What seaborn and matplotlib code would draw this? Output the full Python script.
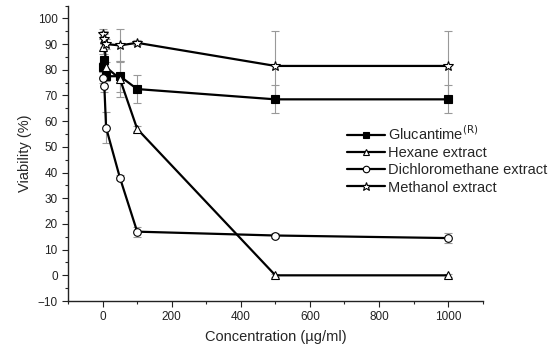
import matplotlib
matplotlib.use("Agg")
import matplotlib.pyplot as plt
import seaborn as sns
from matplotlib.ticker import MultipleLocator

# concentrations (ug/ml)
conc = [1, 5, 10, 50, 100, 500, 1000]

glucantime = [81, 84, 77.5, 77.5, 72.5, 68.5, 68.5]
glucantime_err = [2, 2, 2, 6, 5.5, 5.5, 5.5]
hexane = [89, 92, 81, 76.5, 57, 0, 0]
hexane_err = [3, 2, 2, 7, 1, 0.5, 0.5]
dichloro = [77, 73.5, 57.5, 38, 17, 15.5, 14.5]
dichloro_err = [2, 2, 6, 1, 2, 1, 2]
methanol = [94, 92, 90, 89.5, 90.5, 81.5, 81.5]
methanol_err = [2, 3, 2, 6.5, 1, 13.5, 13.5]

labels = ["Glucantime$^{\\mathrm{(R)}}$", "Hexane extract", "Dichloromethane extract", "Methanol extract"]

sns.set_style("ticks")
plt.rcParams['font.family'] = ['Liberation Sans', 'DejaVu Sans']

fig = plt.figure(figsize=(5.58, 3.48), dpi=100)
ax = fig.add_axes([0.122, 0.135, 0.743, 0.849])

series = [
    (glucantime, glucantime_err, 's', 'black', labels[0]),
    (hexane, hexane_err, '^', 'white', labels[1]),
    (dichloro, dichloro_err, 'o', 'white', labels[2]),
    (methanol, methanol_err, '*', 'white', labels[3]),
]

for vals, err, mk, fc, lab in series:
    ax.errorbar(conc, vals, yerr=err, fmt='none', ecolor='#999999',
                elinewidth=0.8, capsize=3, capthick=0.8, zorder=1)
    sns.lineplot(x=conc, y=vals, ax=ax, color='black', linewidth=1.6,
                 marker=mk, markersize=5.5 if mk != '*' else 7.5,
                 markerfacecolor=fc, markeredgecolor='black',
                 markeredgewidth=0.8, label=lab, zorder=3)

ax.set_xlim(-100, 1100)
ax.set_ylim(-10, 105)
ax.set_xticks([0, 200, 400, 600, 800, 1000])
ax.set_yticks(range(-10, 101, 10))
ax.xaxis.set_minor_locator(MultipleLocator(100))
ax.yaxis.set_minor_locator(MultipleLocator(5))
ax.tick_params(which='major', length=4, width=0.8, labelsize=8.5, colors='#222222')
ax.tick_params(which='minor', length=2.5, width=0.8)
for s in ['top', 'right']:
    ax.spines[s].set_visible(False)
for s in ['left', 'bottom']:
    ax.spines[s].set_linewidth(1.0)
    ax.spines[s].set_color('#222222')

ax.set_xlabel("Concentration (µg/ml)", fontsize=10.5, labelpad=5)
ax.set_ylabel("Viability (%)", fontsize=10.5, labelpad=4)

ax.legend(loc='upper left', bbox_to_anchor=(0.622, 0.643), bbox_transform=fig.transFigure,
          frameon=False, fontsize=10.5, handlelength=2.6, handletextpad=0.2,
          labelspacing=0.22, borderpad=0, borderaxespad=0, markerscale=0.85)

fig.savefig("out.png", dpi=100)
